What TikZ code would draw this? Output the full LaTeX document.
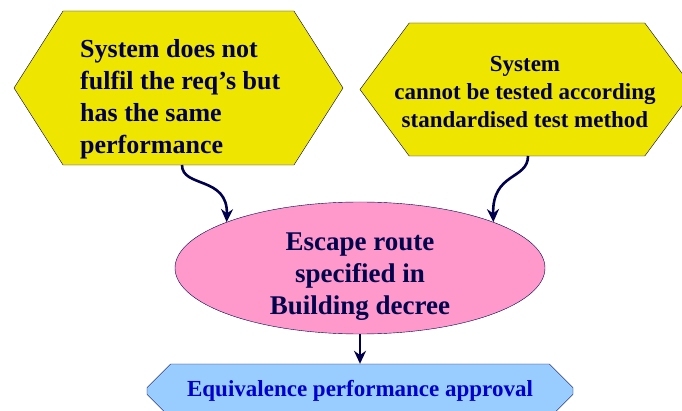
\documentclass[tikz,border=0pt]{standalone}
\usepackage{fontspec}
\setmainfont{Liberation Serif}
\usetikzlibrary{arrows.meta,shapes.geometric,shapes.misc,shapes.symbols}
\definecolor{hexyellow}{RGB}{238,230,0}
\definecolor{escpink}{RGB}{255,153,204}
\definecolor{apprblue}{RGB}{153,204,255}
\definecolor{navy}{RGB}{0,0,77}
\definecolor{apprtext}{RGB}{0,0,204}
\tikzset{>/.tip={Stealth[length=13pt,width=12pt]}}

\begin{document}
\begin{tikzpicture}[x=1pt,y=-1pt,
  hexbox/.style={signal, signal to=west and east, draw=navy, fill=hexyellow,
    inner sep=0pt},
  escbox/.style={ellipse, draw=navy, fill=escpink, inner sep=0pt,
    minimum width=370pt, minimum height=132pt},
  apprbox/.style={chamfered rectangle, chamfered rectangle xsep=13pt,
    chamfered rectangle ysep=13pt, draw=navy, fill=apprblue, text=apprtext,
    inner sep=0pt, minimum width=426pt, minimum height=54pt,
    font=\fontsize{23}{26}\selectfont\bfseries},
  label/.style={text=navy, inner sep=0pt, font=\bfseries},
  flow/.style={->, draw=navy, line width=2.6pt}]
\useasboundingbox (0,0) rectangle (682,411);

\node[hexbox, signal pointer angle=115, minimum width=329pt, minimum height=154pt]
  (req) at (178.5,88) {};
\node[hexbox, signal pointer angle=107, minimum width=334pt, minimum height=133pt]
  (test) at (527,89.5) {};
\node[escbox] (esc) at (360,268) {};
\node[apprbox] (appr) at (360,391) {\raisebox{-2pt}{Equivalence performance approval}};

\node[label, anchor=west, align=left, font=\fontsize{26}{32}\selectfont\bfseries]
  (req-text) at (80,99) {System does not\\fulfil the req's but\\has the same\\performance};
\node[label, align=center, font=\fontsize{23}{28}\selectfont\bfseries]
  (test-text) at (525,92) {System\\cannot be tested according\\standardised test method};
\node[label, align=center, font=\fontsize{27}{32}\selectfont\bfseries]
  (esc-text) at (360,277) {Escape route\\specified in\\Building decree};

\coordinate (req-out) at (182,165);
\coordinate (test-out) at (528,156);

\path[flow] (req-out) .. controls (182,188) and (228,176) .. (esc.161);
\path[flow] (test-out) .. controls (528,180) and (492,172) .. (esc.19);
\path[flow] (esc.south) -- (appr.north);
\end{tikzpicture}
\end{document}
